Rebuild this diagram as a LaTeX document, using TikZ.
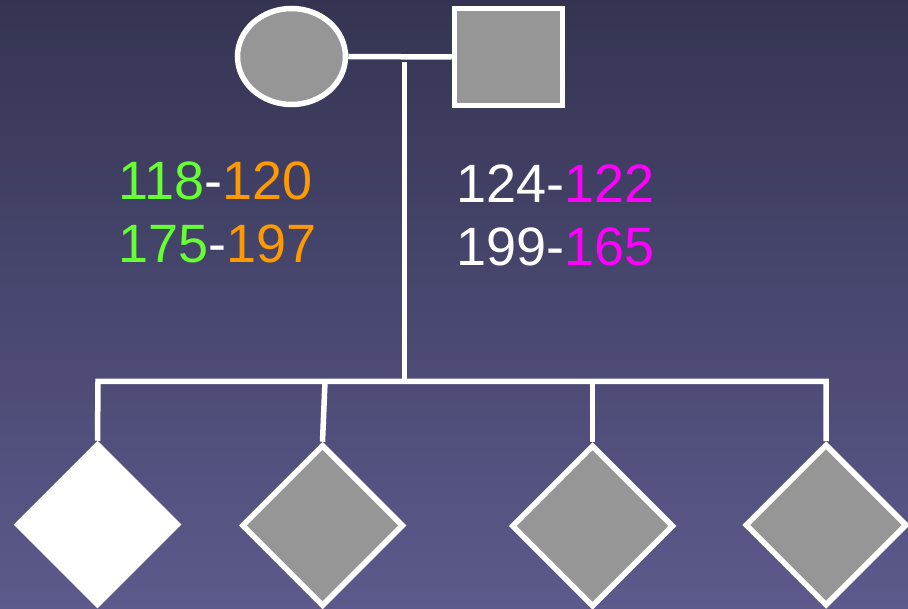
\documentclass[tikz,border=0pt]{standalone}
\usepackage{fontspec}
\setmainfont{Liberation Sans}
\usetikzlibrary{shapes.geometric,positioning}
\definecolor{pedtop}{RGB}{52,52,82}
\definecolor{pedbot}{RGB}{92,90,140}
\definecolor{pedgray}{RGB}{150,150,150}
\definecolor{allelegreen}{RGB}{102,255,51}
\definecolor{alleleorange}{RGB}{255,153,0}
\definecolor{allelepink}{RGB}{255,0,255}

\begin{document}
\begin{tikzpicture}[x=1pt,y=-1pt,
  line/.style={draw=white,line width=5.5pt},
  female/.style={ellipse,draw=white,line width=5.5pt,fill=pedgray,
    minimum width=108pt,minimum height=96pt,inner sep=0pt},
  male/.style={rectangle,draw=white,line width=5.5pt,fill=pedgray,
    minimum width=108pt,minimum height=97pt,inner sep=0pt},
  child/.style={diamond,draw=white,line width=5.5pt,fill=pedgray,
    minimum width=162pt,minimum height=162pt,inner sep=0pt},
  geno/.style={font=\fontsize{54}{64}\selectfont,text=white,
    anchor=base west,inner sep=0pt}
]
\useasboundingbox (0,0) rectangle (908,609);
\shade[top color=pedtop,bottom color=pedbot] (0,0) rectangle (908,609);
% parents
\node[female] (mother) at (291.5,56.5) {};
\node[male] (father) at (508.5,57) {};
\draw[line] (mother.east) -- (father.west);
% children
\node[child,fill=white] (c1) at (97.5,524.5) {};
\node[child] (c2) at (322.5,525.5) {};
\node[child] (c3) at (592.5,526) {};
\node[child] (c4) at (826,525) {};
\coordinate (mate) at (404.5,62);
\coordinate (sibL) at (98,381.5);
\coordinate (sibR) at (826,381.5);
\coordinate (sib2) at (325,381.5);
\coordinate (sib3) at (592.5,381.5);
\draw[line] (mate) -- (mate |- sibL);
\draw[line] (c1.north) -- (sibL) -- (sibR) -- (c4.north);
\draw[line] (sib2) -- (c2.north);
\draw[line] (sib3) -- (c3.north);
% genotypes
\node[geno] (momA) at (118,200) {\textcolor{allelegreen}{118}-\textcolor{alleleorange}{120}};
\node[geno] (momB) at (118,263) {\textcolor{allelegreen}{175}-\textcolor{alleleorange}{197}};
\node[geno] (dadA) at (456,203) {124-\textcolor{allelepink}{122}};
\node[geno] (dadB) at (456,266) {199-\textcolor{allelepink}{165}};
\end{tikzpicture}
\end{document}
